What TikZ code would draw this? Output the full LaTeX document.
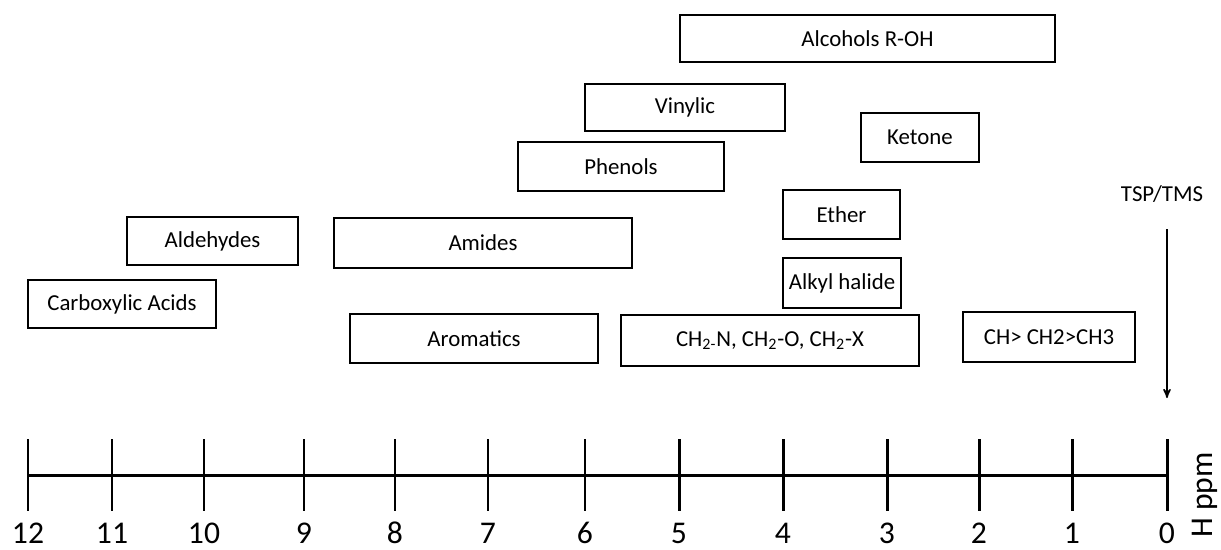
\documentclass[tikz,border=0pt]{standalone}
\usepackage{fontspec}
\setmainfont{Carlito}
\usepackage{tikz}
\usetikzlibrary{calc,positioning,arrows}
\tikzset{
    >=stealth',
    groupbox/.style={
        rectangle,
        draw, line width=1.1pt,
        inner sep=2pt,
        text centered,
        font={\fontsize{13pt}{15pt}\selectfont}
    },
    axisline/.style={line width=1.7pt},
    ticklabel/.style={anchor=base, inner sep=0pt, font={\fontsize{18pt}{20pt}\selectfont}},
}
\begin{document}
\begin{tikzpicture}
[
    x=0.02cm, y=-0.02cm,
]
\useasboundingbox (0,0) rectangle (1221,549);
\node(alc) at (867.5, 38.5)[groupbox, minimum width=7.5cm, minimum height=0.94cm]{Alcohols R-OH};
\node(vin) at (685, 107.5)[groupbox, minimum width=4cm, minimum height=0.94cm]{Vinylic};
\node(ket) at (920, 137.5)[groupbox, minimum width=2.36cm, minimum height=0.98cm]{Ketone};
\node(phe) at (621, 166.5)[groupbox, minimum width=4.12cm, minimum height=0.98cm]{Phenols};
\node(eth) at (841.5, 214.5)[groupbox, minimum width=2.34cm, minimum height=0.98cm]{Ether};
\node(ald) at (212.5, 241)[groupbox, minimum width=3.42cm, minimum height=0.96cm]{Aldehydes};
\node(ami) at (483, 243)[groupbox, minimum width=5.96cm, minimum height=1cm]{Amides};
\node(alk) at (842, 283)[groupbox, minimum width=2.36cm, minimum height=1cm]{Alkyl halide};
\node(car) at (122, 304)[groupbox, minimum width=3.76cm, minimum height=0.96cm]{Carboxylic Acids};
\node(aro) at (474, 338.5)[groupbox, minimum width=4.96cm, minimum height=0.98cm]{Aromatics};
\node(chx) at (770, 340.5)[groupbox, minimum width=5.96cm, minimum height=1.02cm]{CH\textsubscript{2-}N, CH\textsubscript{2}-O, CH\textsubscript{2}-X};
\node(chn) at (1049, 337)[groupbox, minimum width=3.44cm, minimum height=1cm]{CH> CH2>CH3};
% ppm scale
\coordinate(left) at (28, 475);
\coordinate(zero) at (1167, 475);
\draw[axisline] (left) -- (zero);
\foreach \x/\ppm in {28/12, 112/11, 204/10, 304/9, 395/8, 488/7, 585/6, 679/5, 783/4, 887/3, 979/2, 1072/1, 1167/0}
{
    \draw[axisline] (\x, 439) -- (\x, 511);
    \node(t\ppm) at (\x, 543)[ticklabel]{\ppm};
}
\node(hppm) at (1205, 495)[rotate=90, font={\fontsize{18pt}{20pt}\selectfont}]{H ppm};
\node(tsp) at (1162, 194)[font={\fontsize{13pt}{15pt}\selectfont}]{TSP/TMS};
\coordinate(tsptip) at (1167, 398);
\draw[->, line width=0.85pt] (1167, 229) -- (tsptip);
\end{tikzpicture}
\end{document}
